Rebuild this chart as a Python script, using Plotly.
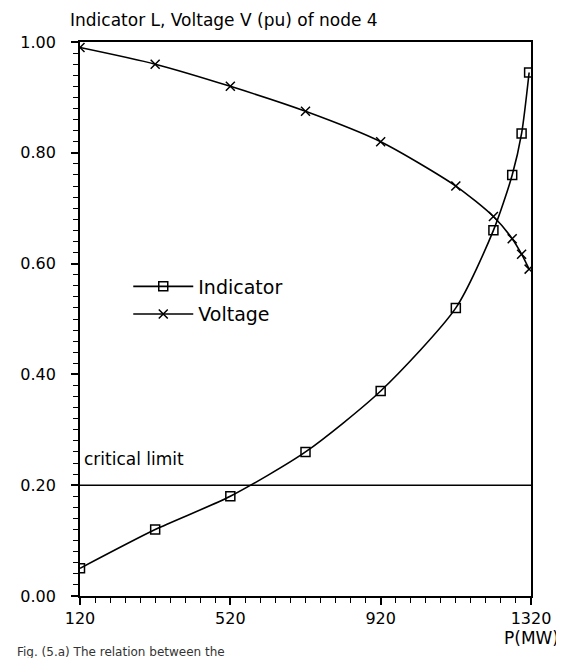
import plotly.graph_objects as go

# load P (MW) at node 4
p_mw = [120, 320, 520, 720, 920, 1120, 1220, 1270, 1295, 1315]
# voltage stability indicator L
indicator = [0.05, 0.12, 0.18, 0.26, 0.37, 0.52, 0.66, 0.76, 0.835, 0.945]
# node voltage V (pu)
voltage = [0.99, 0.96, 0.92, 0.875, 0.82, 0.74, 0.685, 0.645, 0.617, 0.59]

critical_p = [120, 1320]
critical_l = [0.2, 0.2]

font = "DejaVu Sans"

fig = go.Figure()

fig.add_trace(go.Scatter(
    x=p_mw, y=indicator, name="Indicator",
    mode="lines+markers", line=dict(color="black", width=1.6, shape="spline", smoothing=0.7),
    marker=dict(symbol="square-open", size=9, color="black", line=dict(width=1.5)),
))
fig.add_trace(go.Scatter(
    x=p_mw, y=voltage, name="Voltage",
    mode="lines+markers", line=dict(color="black", width=1.6, shape="spline", smoothing=0.7),
    marker=dict(symbol="x-thin", size=9, color="black", line=dict(width=1.5, color="black")),
))
fig.add_trace(go.Scatter(
    x=critical_p, y=critical_l, mode="lines", showlegend=False,
    line=dict(color="black", width=1.6),
))

fig.add_annotation(x=125, y=0.247, xref="x", yref="y", text="critical limit",
                   showarrow=False, xanchor="left", yanchor="middle",
                   font=dict(family=font, size=17, color="black"))

fig.add_annotation(x=0.0, y=1.0, xref="paper", yref="paper", yshift=10, xshift=-12,
                   text="Indicator L, Voltage V (pu) of node 4", showarrow=False,
                   xanchor="left", yanchor="bottom",
                   font=dict(family=font, size=17, color="black"))

fig.add_annotation(x=1.0, y=0.0, xref="paper", yref="paper", yshift=-30, xshift=30,
                   text="P(MW)", showarrow=False, xanchor="right", yanchor="top",
                   font=dict(family=font, size=17, color="black"))

fig.add_annotation(x=0.0, y=0.0, xref="paper", yref="paper", yshift=-47, xshift=-65,
                   text="Fig. (5.a) The relation between the", showarrow=False,
                   xanchor="left", yanchor="top",
                   font=dict(family=font, size=12, color="#333"))

fig.update_xaxes(
    range=[120, 1320], tickvals=[120, 520, 920, 1320],
    ticks="outside", ticklen=7, tickwidth=1.6, tickcolor="black",
    minor=dict(dtick=40, tick0=120, ticks="outside", ticklen=5, tickwidth=1.3, tickcolor="black"),
    showline=True, linecolor="black", linewidth=1.8, mirror=True,
    showgrid=False, zeroline=False,
    tickfont=dict(family=font, size=16, color="black"),
)
fig.update_yaxes(
    range=[0, 1], dtick=0.2, tickformat=".2f",
    ticks="outside", ticklen=7, tickwidth=1.6, tickcolor="black",
    minor=dict(dtick=0.02, ticks="outside", ticklen=5, tickwidth=1.3, tickcolor="black"),
    showline=True, linecolor="black", linewidth=1.8, mirror=True,
    showgrid=False, zeroline=False, ticklabelstandoff=12,
    tickfont=dict(family=font, size=16, color="black"),
)

fig.update_layout(
    width=556, height=650,
    margin=dict(l=65, r=33, t=34, b=62),
    plot_bgcolor="white", paper_bgcolor="white",
    showlegend=True,
    legend=dict(x=0.107, y=0.593, xanchor="left", yanchor="top",
                bgcolor="rgba(0,0,0,0)", itemwidth=60, tracegroupgap=0,
                font=dict(family=font, size=19, color="black")),
)

fig.write_html("out.html")
